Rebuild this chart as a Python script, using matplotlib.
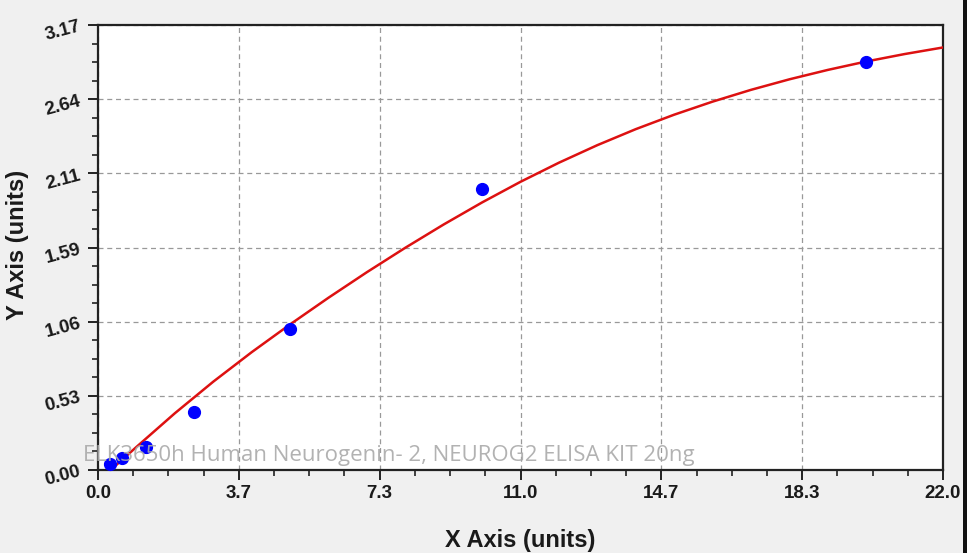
import matplotlib
matplotlib.use("Agg")
import matplotlib.pyplot as plt
from matplotlib.ticker import FixedLocator, AutoMinorLocator
from matplotlib.patches import Rectangle

# Standard points
x_points = [0.3125, 0.625, 1.25, 2.5, 5.0, 10.0, 20.0]
y_points = [0.04, 0.085, 0.166, 0.41, 1.005, 2.00, 2.905]

# Fitted curve
curve_x = [0.33, 1, 2, 3, 4, 5, 6, 7, 8, 9, 10, 11, 12, 13, 14, 15, 16, 17, 18, 19, 20, 21, 22]
curve_y = [0.0, 0.164, 0.404, 0.629, 0.839, 1.037, 1.227, 1.409, 1.583, 1.749, 1.906,
           2.053, 2.189, 2.314, 2.428, 2.531, 2.624, 2.708, 2.783, 2.850, 2.910, 2.963, 3.010]

x_ticks = [0, 22/6, 44/6, 66/6, 88/6, 110/6, 22]
x_tick_labels = ["0.0", "3.7", "7.3", "11.0", "14.7", "18.3", "22.0"]
y_ticks = [0, 3.17/6, 2*3.17/6, 3*3.17/6, 4*3.17/6, 5*3.17/6, 3.17]
y_tick_labels = ["0.00", "0.53", "1.06", "1.59", "2.11", "2.64", "3.17"]

watermark = "ELK3650h Human Neurogenin- 2, NEUROG2 ELISA KIT 20ng"

plt.rcParams["font.family"] = ["Liberation Sans", "DejaVu Sans"]

fig = plt.figure(figsize=(9.67, 5.53), dpi=100, facecolor="#f0f0f0")
ax = fig.add_axes([98/967, 1-470/553, (943-98)/967, (470-25)/553])
ax.set_facecolor("white")

ax.plot(curve_x, curve_y, color="#dd1111", lw=1.8, zorder=3)
ax.plot(x_points, y_points, "o", color="#0000ff", ms=8.5, zorder=4, clip_on=False)

ax.set_xlim(0, 22)
ax.set_ylim(0, 3.17)
ax.xaxis.set_major_locator(FixedLocator(x_ticks))
ax.yaxis.set_major_locator(FixedLocator(y_ticks))
ax.set_xticklabels(x_tick_labels)
ax.set_yticklabels(y_tick_labels, rotation=15)
ax.xaxis.set_minor_locator(AutoMinorLocator(4))
ax.yaxis.set_minor_locator(AutoMinorLocator(4))

ax.grid(True, which="major", color="#999999", linestyle=(0, (4, 3)), lw=0.9)
ax.set_axisbelow(True)

for s in ax.spines.values():
    s.set_linewidth(1.6)
    s.set_color("#222222")

ax.tick_params(which="major", direction="out", length=7, width=1.4, color="#222222",
               labelsize=13.5, pad=4, top=False, right=False)
ax.tick_params(which="minor", direction="out", length=4.5, width=1.2, color="#222222",
               top=False, right=False)
for lbl in ax.get_xticklabels() + ax.get_yticklabels():
    lbl.set_fontweight("bold")
    lbl.set_color("#1a1a1a")

fig.text(520/967, 1-540/553, "X Axis (units)", ha="center", va="center",
         fontsize=17, fontweight="bold", color="#1a1a1a")
fig.text(18/967, 1-245/553, "Y Axis (units)", ha="center", va="center",
         rotation=90, fontsize=17, fontweight="bold", color="#1a1a1a")

fig.text(83/967, 1-455/553, watermark, ha="left", va="center",
         fontsize=16, family=["Open Sans", "DejaVu Sans"], color="#aaaaaa", alpha=0.9, zorder=10)

fig.patches.append(Rectangle((963/967, 0), 4/967, 1, transform=fig.transFigure,
                             facecolor="#111111", edgecolor="none", zorder=0))

fig.savefig("out.png", dpi=100, facecolor=fig.get_facecolor())
